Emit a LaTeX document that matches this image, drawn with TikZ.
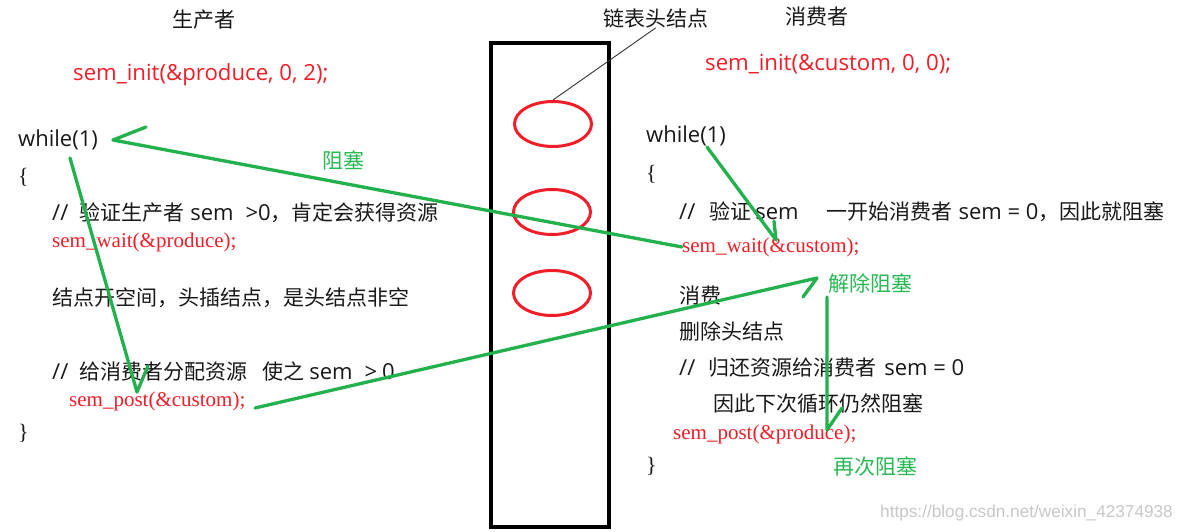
\documentclass[tikz,border=0pt]{standalone}
\usepackage{fontspec}
\setmainfont{Open Sans}
\newfontfamily\zhfont{Noto Sans CJK SC}
\newfontfamily\codeserif{Liberation Serif}
\newfontfamily\wmfont{Liberation Sans}
\newcommand\zh[1]{{\zhfont\fontsize{21}{24}\selectfont #1}}
\usetikzlibrary{shapes.geometric}
\definecolor{codered}{RGB}{240,30,40}
\definecolor{arrowgreen}{RGB}{34,177,76}
\definecolor{labelgreen}{RGB}{40,185,85}
\definecolor{inktext}{RGB}{25,25,25}
\definecolor{wmgray}{RGB}{200,200,200}
\begin{document}
\begin{tikzpicture}[x=1pt,y=-1pt,
  txt/.style={anchor=west, inner sep=0pt, text=inktext, font=\fontsize{22}{24}\selectfont},
  brace/.style={anchor=west, inner sep=0pt, text=inktext, font=\codeserif\fontsize{22}{24}\selectfont},
  redsans/.style={anchor=west, inner sep=0pt, text=codered, font=\fontsize{22.2}{24}\selectfont},
  redserif/.style={anchor=west, inner sep=0pt, text=codered, font=\codeserif\fontsize{21}{24}\selectfont},
  glabel/.style={anchor=west, inner sep=0pt, text=labelgreen, font=\zhfont\fontsize{21}{24}\selectfont},
  wm/.style={anchor=west, inner sep=0pt, text=wmgray, font=\wmfont\fontsize{17.2}{20}\selectfont},
  headell/.style={ellipse, draw=codered, line width=3pt, minimum width=77pt, minimum height=45pt, inner sep=0pt},
  listbox/.style={draw=black, line width=4pt, minimum width=118pt, minimum height=484pt, inner sep=0pt},
  leader/.style={draw=black!80, line width=0.9pt},
  garrow/.style={draw=arrowgreen, line width=3.3pt, line join=round, line cap=round}]
\useasboundingbox (0,0) rectangle (1179,532);
\fill[white] (0,0) rectangle (1179,532);

% producer side
\node[txt] (ptitle) at (172,20) {\zh{生产者}};
\node[redsans] (pinit) at (73,75) {sem\_init(\&produce, 0, 2);};
\node[txt] (pwhile) at (18,140) {while(1)};
\node[brace] (pob) at (18,177) {\{};
\node[txt] (pc1) at (52,213) {//\hspace{11pt}\zh{验证生产者}\hspace{6pt}sem\hspace{12pt}>0\zh{，肯定会获得资源}};
\node[redserif] (pwait) at (52,242) {sem\_wait(\&produce);};
\node[txt] (pnode) at (52,298) {\zh{结点开空间，头插结点，是头结点非空}};
\node[txt] (pc2) at (52,372) {//\hspace{11pt}\zh{给消费者分配资源}\hspace{15pt}\zh{使之}\hspace{5pt}sem\hspace{12pt}>\hspace{5pt}0};
\node[redserif] (ppost) at (69,401) {sem\_post(\&custom);};
\node[brace] (pcb) at (18,433) {\}};
\node[glabel] (block) at (322,160) {阻塞};

% linked list
\node[listbox] (list) at (550,285) {};
\node[headell] (e1) at (553,124) {};
\node[headell] (e2) at (552,212) {};
\node[headell] (e3) at (552,293) {};
\node[txt] (hlabel) at (603,18) {\zh{链表头结点}};
\draw[leader] (hlabel.south) -- (e1.north);

% consumer side
\node[txt] (ctitle) at (785,17) {\zh{消费者}};
\node[redsans] (cinit) at (705,64) {sem\_init(\&custom, 0, 0);};
\node[txt] (cwhile) at (646,136) {while(1)};
\node[brace] (cob) at (646,174) {\{};
\node[txt] (cc1) at (679,212) {//\hspace{14pt}\zh{验证}\hspace{4pt}sem\hspace{28pt}\zh{一开始消费者}\hspace{6pt}sem = 0\zh{，因此就阻塞}};
\node[redserif] (cwait) at (682,247) {sem\_wait(\&custom);};
\node[glabel] (unblock) at (828,283) {解除阻塞};
\node[txt] (consume) at (679,296) {\zh{消费}};
\node[txt] (delhead) at (679,331) {\zh{删除头结点}};
\node[txt] (cc2) at (679,368) {//\hspace{13pt}\zh{归还资源给消费者}\hspace{8pt}sem = 0};
\node[txt] (still) at (713,404) {\zh{因此下次循环仍然阻塞}};
\node[redserif] (cpost) at (673,434) {sem\_post(\&produce);};
\node[brace] (ccb) at (646,466) {\}};
\node[glabel] (reblock) at (833,466) {再次阻塞};

\node[wm] (wmark) at (880,513) {https://blog.csdn.net/weixin\_42374938};

% green arrows
\coordinate (a1tip) at (113,140);
\coordinate (a1barb) at (146,127);
\draw[garrow] (cwait.west) -- (a1tip) -- (a1barb);

\coordinate (a2tail) at (70,158);
\coordinate (a2tip) at (137,392);
\coordinate (a2barb) at (148,366);
\draw[garrow] (a2tail) -- (a2tip) -- (a2barb);

\coordinate (a3tail) at (255,408);
\coordinate (a3tip) at (817,278);
\coordinate (a3barb) at (803,297);
\draw[garrow] (a3tail) -- (a3tip) -- (a3barb);

\coordinate (a4tail) at (707,147);
\coordinate (a4tip) at (776,240);
\coordinate (a4barb) at (774,221);
\draw[garrow] (a4tail) -- (a4tip) -- (a4barb);

\coordinate (a5tail) at (827,297);
\coordinate (a5tip) at (827,430);
\coordinate (a5barb) at (842,408);
\draw[garrow] (a5tail) -- (a5tip) -- (a5barb);
\end{tikzpicture}
\end{document}
